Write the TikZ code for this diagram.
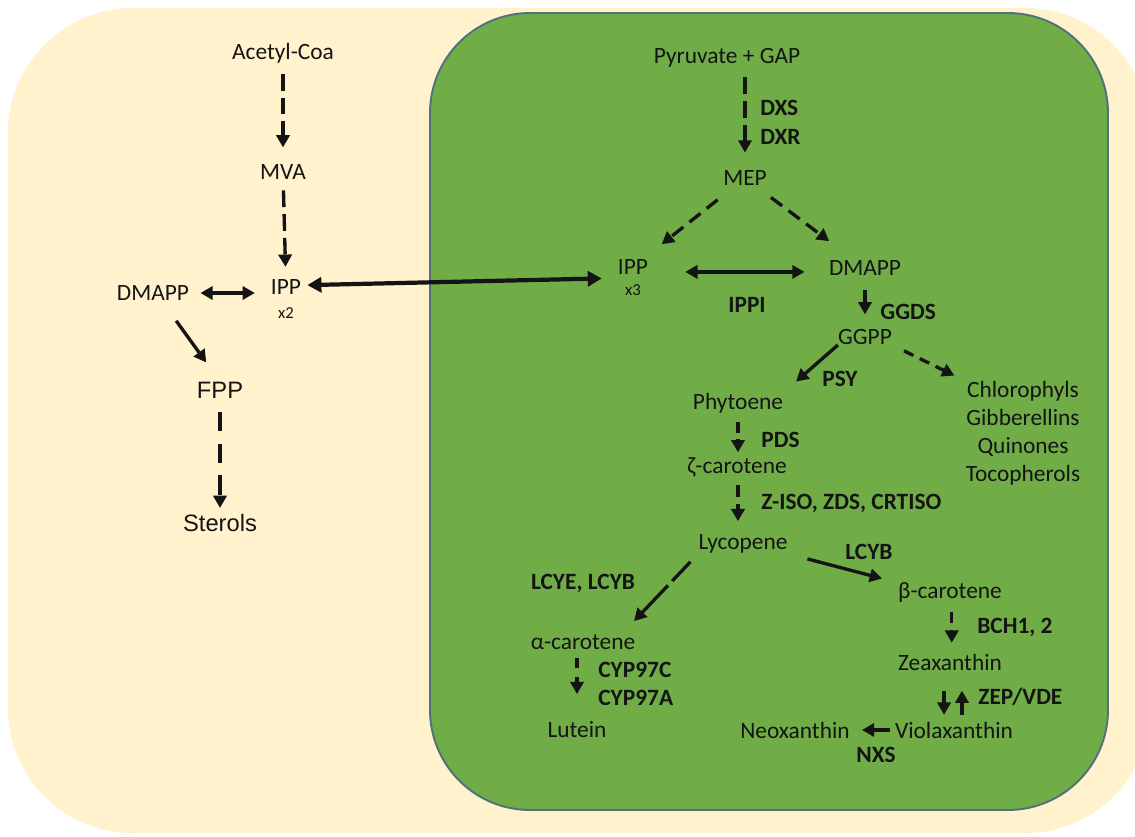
\documentclass[tikz,border=0pt]{standalone}
\usepackage{fontspec}
\setmainfont{Carlito}
\newfontfamily\arialfont{Liberation Sans}
\usetikzlibrary{arrows.meta}
\definecolor{creambg}{HTML}{FFF2CC}
\definecolor{leafgreen}{HTML}{70AD47}
\definecolor{leafedge}{HTML}{52707E}
\definecolor{inkdark}{HTML}{141414}

\begin{document}
\begin{tikzpicture}[x=0.02cm,y=-0.02cm,
    metab/.style={inner sep=0pt,text=inkdark,font=\fontsize{13.3}{16}\selectfont},
    enz/.style={inner sep=0pt,text=inkdark,font=\fontsize{13.3}{16}\selectfont\bfseries},
    small/.style={inner sep=0pt,text=inkdark,font=\fontsize{9.5}{10}\selectfont},
    flow/.style={line width=1.9pt,draw=inkdark,-{Triangle[length=7pt,width=7.5pt]}},
    dflow/.style={flow,dash pattern=on 9.5pt off 4pt},
    twoway/.style={flow,{Triangle[length=7pt,width=7.5pt]}-{Triangle[length=7pt,width=7.5pt]}}]
        \useasboundingbox (0,0) rectangle (1135,836);

        % Cytosol and plastid
        \fill[creambg,rounded corners=71pt] (8,8) rectangle (1150,833);
        \draw[leafedge,line width=1.1pt,fill=leafgreen,rounded corners=57pt] (430,13) rectangle (1108,810);

        % MVA pathway (cytosol)
        \node[metab] (acetyl) at (283,53) {Acetyl-Coa};
        \node[metab] (mva) at (283,172) {MVA};
        \node[metab] (ippL) at (286,287) {IPP};
        \node[small] (ippLn) at (286,313) {x2};
        \node[metab] (dmappL) at (153,293) {DMAPP};
        \node[metab,font=\arialfont\fontsize{13.5}{16}\selectfont] (fpp) at (220,390) {FPP};
        \node[metab,font=\arialfont\fontsize{13.5}{16}\selectfont] (sterols) at (220,523) {Sterols};

        \draw[dflow,shorten <=6pt,shorten >=9.5pt] (acetyl) -- (mva);
        \draw[dflow,shorten <=6pt,shorten >=7pt] (mva) -- (ippL);
        \draw[twoway,shorten <=6.3pt,shorten >=9pt] (dmappL.east) -- (dmappL -| ippL.west);
        \draw[flow,shorten <=14pt,shorten >=13.4pt] ([xshift=5pt]dmappL.south) -- (fpp.north);
        \draw[flow,dash pattern=on 11pt off 7pt,shorten <=7.7pt,shorten >=3.4pt] (fpp) -- (sterols);

        % MEP pathway (plastid)
        \node[metab] (pyr) at (727,58) {Pyruvate + GAP};
        \node[metab] (mep) at (745,178) {MEP};
        \node[metab] (ippR) at (633,267) {IPP};
        \node[small] (ippRn) at (633,290) {x3};
        \node[metab] (dmappR) at (865,268) {DMAPP};
        \node[metab] (ggpp) at (865,337) {GGPP};
        \node[metab,align=center] (others) at (1023,433.5) {Chlorophyls\\Gibberellins\\Quinones\\Tocopherols};

        \node[enz,anchor=west] (dxs) at (760,108) {DXS};
        \node[enz,anchor=west] (dxr) at (760,137) {DXR};
        \node[enz] (ippi) at (747,305) {IPPI};
        \node[enz,anchor=west] (ggds) at (880,312) {GGDS};

        \draw[dflow,shorten <=5.4pt,shorten >=10pt] (pyr.south -| mep.north) -- (mep.north);
        \draw[dflow,dash pattern=on 8pt off 4.5pt,shorten <=12.7pt,shorten >=13.7pt] (mep) -- (ippR);
        \draw[dflow,dash pattern=on 8pt off 4.5pt,shorten <=11pt,shorten >=18pt] (mep) -- (dmappR);
        \draw[twoway,shorten <=21pt,shorten >=13.7pt] ([yshift=-2.8pt]ippR.east) -- ([yshift=-2.8pt]ippR.east -| dmappR.west);
        \draw[flow,shorten <=8.3pt,shorten >=8.3pt] (dmappR.south -| ggpp.north) -- (ggpp.north);

        % exchange of IPP between the compartments
        \draw[line width=2.4pt,draw=inkdark,{Triangle[length=8pt,width=8.5pt]}-{Triangle[length=8pt,width=8.5pt]},shorten <=3.4pt,shorten >=9pt] ([yshift=1pt]ippL.east) -- ([yshift=-6.3pt]ippR.west);

        % carotenoid branch
        \node[metab] (phyt) at (738,403) {Phytoene};
        \node[metab] (zeta) at (737,467) {ζ-carotene};
        \node[metab] (lyco) at (743,544) {Lycopene};
        \node[metab] (alpha) at (583,642) {α-carotene};
        \node[metab] (lutein) at (577,730) {Lutein};
        \node[metab] (beta) at (950,593) {β-carotene};
        \node[metab] (zea) at (950,662) {Zeaxanthin};
        \node[metab] (viola) at (954,730) {Violaxanthin};
        \node[metab] (neo) at (795,730) {Neoxanthin};

        \node[enz] (psy) at (840,379) {PSY};
        \node[enz,anchor=west] (pds) at (761,440) {PDS};
        \node[enz,anchor=west] (ziso) at (761,503) {Z-ISO, ZDS, CRTISO};
        \node[enz,anchor=west] (lcyb) at (845,552) {LCYB};
        \node[enz] (lcye) at (583,583) {LCYE, LCYB};
        \node[enz,anchor=west] (cypc) at (598,670) {CYP97C};
        \node[enz,anchor=west] (cypa) at (598,698) {CYP97A};
        \node[enz,anchor=west] (bch) at (977,627) {BCH1, 2};
        \node[enz,anchor=west] (zep) at (978,697) {ZEP/VDE};
        \node[enz] (nxs) at (876,755) {NXS};

        \draw[flow,shorten >=9.6pt] (ggpp.south west) -- (phyt.north east);
        \draw[dflow,dash pattern=on 6pt off 4pt,shorten <=7.5pt,shorten >=7pt] (ggpp.south east) -- (others.north west);
        \draw[dflow,dash pattern=on 6pt off 3.5pt,shorten <=5pt,shorten >=2.6pt] (phyt.south) -- (phyt.south |- zeta.north);
        \draw[dflow,dash pattern=on 7pt off 4pt,shorten <=4.3pt,shorten >=7.4pt] (zeta.south -| phyt.south) -- (phyt.south |- lyco.north);
        \draw[flow,dash pattern=on 15pt off 3.5pt on 100pt off 1pt,shorten <=6.4pt,shorten >=10.3pt] (lyco.south west) -- ([xshift=-8pt]alpha.north east);
        \draw[flow,shorten <=11.5pt,shorten >=9.3pt] (lyco.south east) -- (beta.north west);
        \draw[dflow,dash pattern=on 6pt off 4pt,shorten <=5pt,shorten >=6.1pt] ([xshift=1pt]beta.south) -- ([xshift=1pt]beta.south |- zea.north);
        \draw[dflow,dash pattern=on 6pt off 5pt,shorten <=4.5pt,shorten >=15.6pt] (alpha.south -| lutein.north) -- (lutein.north);
        \draw[flow,shorten <=11.4pt,shorten >=3.8pt] ([xshift=-3.4pt]zea.south) -- ([xshift=-3.4pt]zea.south |- viola.north);
        \draw[flow,shorten <=3.8pt,shorten >=11.4pt] ([xshift=6.8pt]zea.south |- viola.north) -- ([xshift=6.8pt]zea.south);
        \draw[flow,shorten <=2.5pt,shorten >=6.8pt] (viola.west) -- (neo.east);
\end{tikzpicture}
\end{document}
